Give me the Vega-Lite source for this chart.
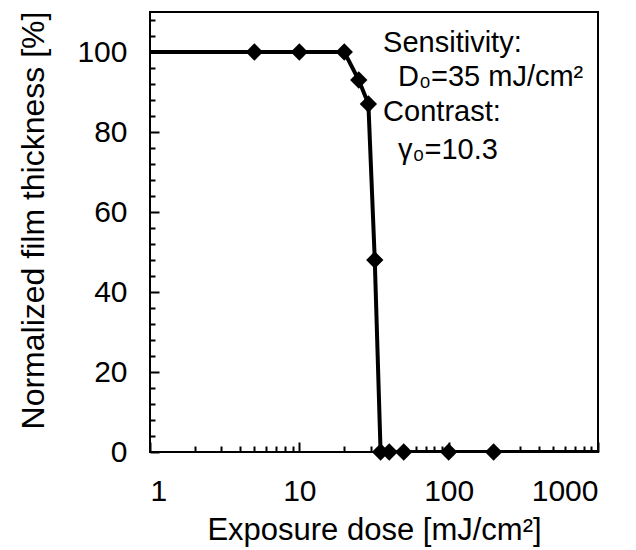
{
  "$schema": "https://vega.github.io/schema/vega-lite/v6.json",
  "width": 448,
  "height": 440,
  "autosize": "none",
  "padding": {"left": 150, "top": 12, "right": 38, "bottom": 98},
  "background": "white",
  "config": {
    "view": {"stroke": "black", "strokeWidth": 2},
    "font": "Liberation Sans",
    "axis": {"grid": false, "domain": false, "tickColor": "black", "labelColor": "black", "titleColor": "black", "titleFontWeight": "normal", "labelFont": "Liberation Sans", "titleFont": "Liberation Sans", "labelOverlap": false}
  },
  "datasets": {
    "curve": [
      {"dose": 1, "thickness": 100, "measured": false},
      {"dose": 5, "thickness": 100, "measured": true},
      {"dose": 10, "thickness": 100, "measured": true},
      {"dose": 20, "thickness": 100, "measured": true},
      {"dose": 25, "thickness": 93, "measured": true},
      {"dose": 29, "thickness": 87, "measured": true},
      {"dose": 32, "thickness": 48, "measured": true},
      {"dose": 35, "thickness": 0, "measured": true},
      {"dose": 40, "thickness": 0, "measured": true},
      {"dose": 50, "thickness": 0, "measured": true},
      {"dose": 100, "thickness": 0, "measured": true},
      {"dose": 200, "thickness": 0, "measured": true},
      {"dose": 1000, "thickness": 0, "measured": false}
    ],
    "notes": [
      {"dose": 36.4, "thickness": 102.2, "label": "Sensitivity:"},
      {"dose": 45.8, "thickness": 93.8, "label": "D₀=35 mJ/cm²"},
      {"dose": 36.4, "thickness": 85, "label": "Contrast:"},
      {"dose": 45.8, "thickness": 75.5, "label": "γ₀=10.3"}
    ]
  },
  "layer": [
    {
      "data": {"name": "curve"},
      "mark": {"type": "line", "color": "black", "strokeWidth": 4, "clip": true},
      "encoding": {
        "x": {"field": "dose", "type": "quantitative", "scale": {"type": "log", "domain": [1, 1000], "nice": false},
          "axis": {"orient": "bottom", "tickCount": 200,
            "values": [1, 2, 3, 4, 5, 6, 7, 8, 9, 10, 20, 30, 40, 50, 60, 70, 80, 90, 100, 200, 300, 400, 500, 600, 700, 800, 900, 1000],
            "labelExpr": "indexof([1, 10, 100, 1000], datum.value) >= 0 ? datum.value : ''",
            "tickSize": {"condition": {"test": "indexof([1, 10, 100, 1000], datum.value) >= 0", "value": -10}, "value": -6},
            "tickWidth": 2, "labelFontSize": 30, "labelPadding": 34, "title": "Exposure dose [mJ/cm²]", "titleFontSize": 31, "titlePadding": 5}},
        "y": {"field": "thickness", "type": "quantitative", "scale": {"domain": [0, 110], "nice": false, "zero": false},
          "axis": {"orient": "left", "tickCount": 200,
            "values": [0, 4, 8, 12, 16, 20, 24, 28, 32, 36, 40, 44, 48, 52, 56, 60, 64, 68, 72, 76, 80, 84, 88, 92, 96, 100, 104, 108],
            "labelExpr": "datum.value % 20 == 0 ? datum.value : ''",
            "tickSize": {"condition": {"test": "datum.value % 20 == 0", "value": -9}, "value": -5},
            "tickWidth": 2, "labelFontSize": 30, "labelPadding": 32, "title": "Normalized film thickness [%]", "titleFontSize": 32, "titlePadding": 26, "titleY": 208}}
      }
    },
    {
      "data": {"name": "curve"},
      "transform": [{"filter": "datum.measured"}],
      "mark": {"type": "point", "shape": "diamond", "filled": true, "color": "black", "size": 300, "opacity": 1},
      "encoding": {
        "x": {"field": "dose", "type": "quantitative"},
        "y": {"field": "thickness", "type": "quantitative"}
      }
    },
    {
      "data": {"name": "notes"},
      "mark": {"type": "text", "align": "left", "baseline": "middle", "fontSize": 29, "color": "black", "font": "Liberation Sans"},
      "encoding": {
        "x": {"field": "dose", "type": "quantitative"},
        "y": {"field": "thickness", "type": "quantitative"},
        "text": {"field": "label"}
      }
    }
  ]
}
